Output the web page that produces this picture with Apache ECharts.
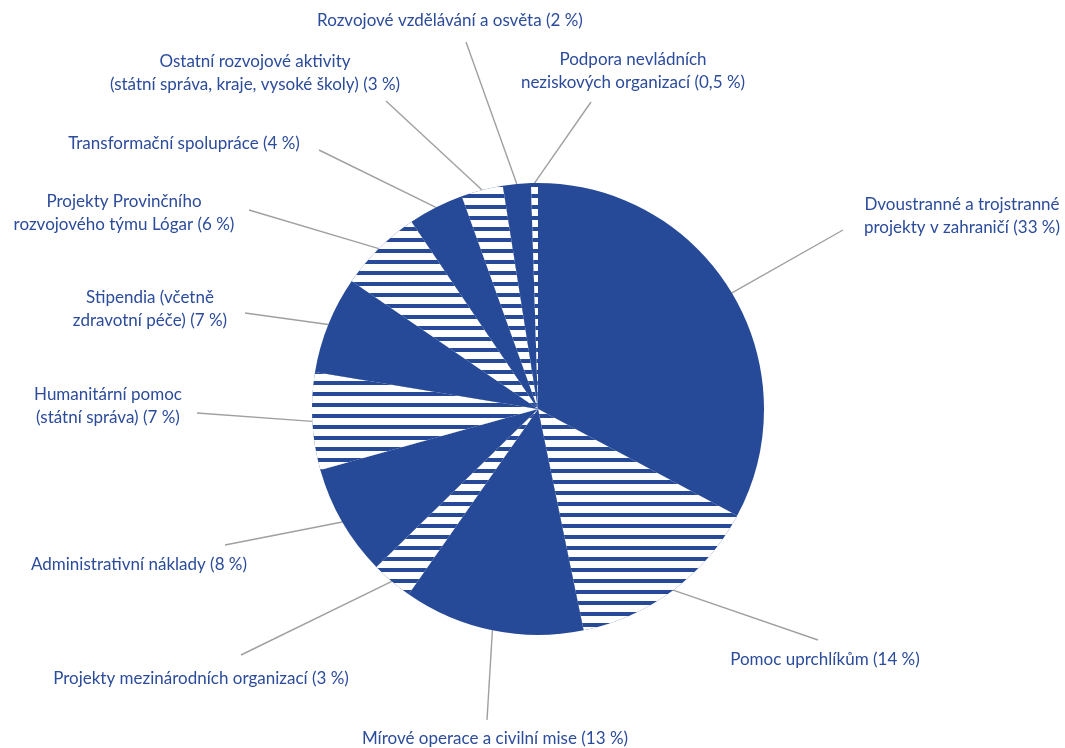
<!DOCTYPE html>
<html>
<head>
<meta charset="utf-8">
<script src="https://cdn.jsdelivr.net/npm/echarts@6/dist/echarts.min.js"></script>
<style>
html,body{margin:0;padding:0;background:#fff;}
#chart{width:1065px;height:748px;}
</style>
</head>
<body>
<div id="chart"></div>
<script>
// ---- data ----
const categories = [
  "Dvoustranné a trojstranné\nprojekty v zahraničí",
  "Pomoc uprchlíkům",
  "Mírové operace a civilní mise",
  "Projekty mezinárodních organizací",
  "Administrativní náklady",
  "Humanitární pomoc\n(státní správa)",
  "Stipendia (včetně\nzdravotní péče)",
  "Projekty Provinčního\nrozvojového týmu Lógar",
  "Transformační spolupráce",
  "Ostatní rozvojové aktivity\n(státní správa, kraje, vysoké školy)",
  "Rozvojové vzdělávání a osvěta",
  "Podpora nevládních\nneziskových organizací"
];
const values = [33, 14, 13, 3, 8, 7, 7, 6, 4, 3, 2, 0.5];
const percentLabels = ["33", "14", "13", "3", "8", "7", "7", "6", "4", "3", "2", "0,5"];
const striped = [false, true, false, true, false, true, false, true, false, true, false, true];

// ---- layout (label anchor positions and leader-line ends, px) ----
const labelPos = [
  [962, 216], [825, 660], [495, 739], [201, 679], [139, 565], [108, 406],
  [150, 309], [124, 213], [184, 144], [255, 73], [450, 21], [633, 71]
];
const lineEnd = [
  [843, 230], [818, 640], [487, 720], [241, 655], [225, 545], [197, 413],
  [245, 313], [249, 210], [319, 150], [386, 101], [466, 42], [591, 102]
];

const BLUE = '#264a98';
const TEXT = '#2b4b9b';

const chart = echarts.init(document.getElementById('chart'));
const data = values.map((v, i) => ({
  name: categories[i],
  value: v,
  itemStyle: striped[i] ? {
    color: BLUE,
    decal: {
      symbol: 'rect',
      symbolSize: 1,
      symbolKeepAspect: false,
      color: '#ffffff',
      dashArrayX: [1, 0],
      dashArrayY: [7, 4],
      rotation: 0
    }
  } : { color: BLUE }
}));

chart.setOption({
  animation: false,
  backgroundColor: '#fff',
  series: [{
    type: 'pie',
    center: [538, 409],
    radius: 226,
    startAngle: 90,
    clockwise: true,
    avoidLabelOverlap: false,
    data: data,
    emphasis: { disabled: true },
    label: {
      show: true,
      position: 'outside',
      color: TEXT,
      fontFamily: 'Lato',
      fontSize: 17,
      lineHeight: 23,
      formatter: p => p.name + ' (' + percentLabels[p.dataIndex] + ' %)'
    },
    labelLine: {
      show: true,
      length: 10,
      length2: 0,
      lineStyle: { color: '#a0a0a0', width: 1.4 }
    },
    labelLayout: function (params) {
      const i = params.dataIndex;
      const pos = labelPos[i];
      const start = params.labelLinePoints ? params.labelLinePoints[0] : lineEnd[i];
      return {
        x: pos[0], y: pos[1], align: 'center', verticalAlign: 'middle',
        labelLinePoints: [start, lineEnd[i], lineEnd[i]]
      };
    }
  }]
});
</script>
</body>
</html>
